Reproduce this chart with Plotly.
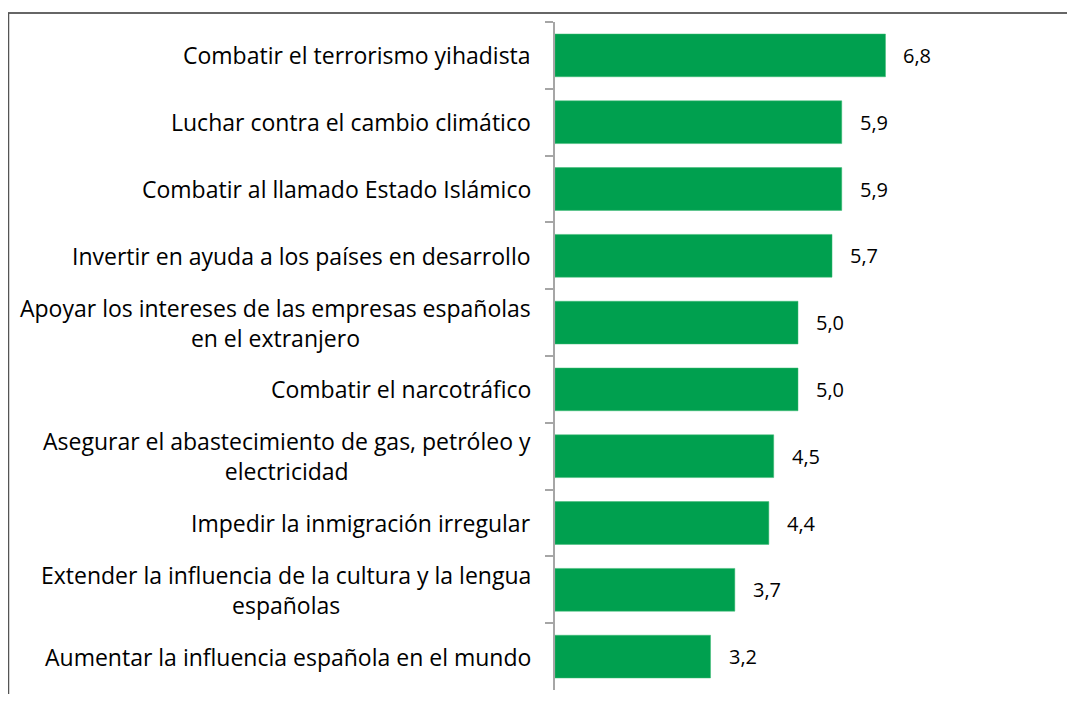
import plotly.graph_objects as go

categories = [
    "Combatir el terrorismo yihadista",
    "Luchar contra el cambio climático",
    "Combatir al llamado Estado Islámico",
    "Invertir en ayuda a los países en desarrollo",
    "Apoyar los intereses de las empresas españolas<br>en el extranjero",
    "Combatir el narcotráfico",
    "Asegurar el abastecimiento de gas, petróleo y<br>electricidad",
    "Impedir la inmigración irregular",
    "Extender la influencia de la cultura y la lengua<br>españolas",
    "Aumentar la influencia española en el mundo",
]
values = [6.8, 5.9, 5.9, 5.7, 5.0, 5.0, 4.5, 4.4, 3.7, 3.2]

FONT = "Open Sans"
OFF = 8  # default body margin of the html page
W, H = 1075 - 2 * OFF, 702 - 2 * OFF
L = 555 - OFF
T = 22 - OFF
pw = 486
ph = 668
R = W - L - pw
B = H - T - ph

fig = go.Figure()
fig.add_trace(go.Bar(
    y=categories, x=values, orientation="h",
    marker=dict(color="#00A04F", line=dict(color="#3DBB73", width=0.5)),
    width=0.64, hoverinfo="skip",
))

for c, v in zip(categories, values):
    fig.add_annotation(x=v, y=c, xref="x", yref="y", text=f"{v:.1f}".replace(".", ","),
                       showarrow=False, xanchor="left", xshift=16,
                       font=dict(family=FONT, size=20, color="#000000"))
    fig.add_annotation(x=0, y=c, xref="paper", yref="y", text=c,
                       showarrow=False, xanchor="right", xshift=-22, align="center",
                       font=dict(family=FONT, size=23, color="#000000"))

# outer frame (top and left edges), given in page pixels
def px2x(p):
    return (p - OFF - L) / pw
def py2y(p):
    return (T + ph - (p - OFF)) / ph

fig.add_shape(type="line", xref="paper", yref="paper",
              x0=px2x(8), x1=px2x(1080), y0=py2y(13), y1=py2y(13),
              line=dict(color="#333333", width=1.5))
fig.add_shape(type="line", xref="paper", yref="paper",
              x0=px2x(8.5), x1=px2x(8.5), y0=py2y(13), y1=py2y(710),
              line=dict(color="#555555", width=1.5))

fig.update_layout(
    width=W, height=H,
    margin=dict(l=L, r=R, t=T, b=B),
    plot_bgcolor="white", paper_bgcolor="white",
    showlegend=False,
    xaxis=dict(range=[0, 10], visible=False),
    yaxis=dict(autorange="reversed", showticklabels=False,
               showline=True, linecolor="#A6A6A6", linewidth=1.5,
               ticks="outside", ticklen=8, tickcolor="#A6A6A6", tickwidth=1.5,
               tickson="boundaries", showgrid=False, zeroline=False),
)

fig.write_html("out.html")
